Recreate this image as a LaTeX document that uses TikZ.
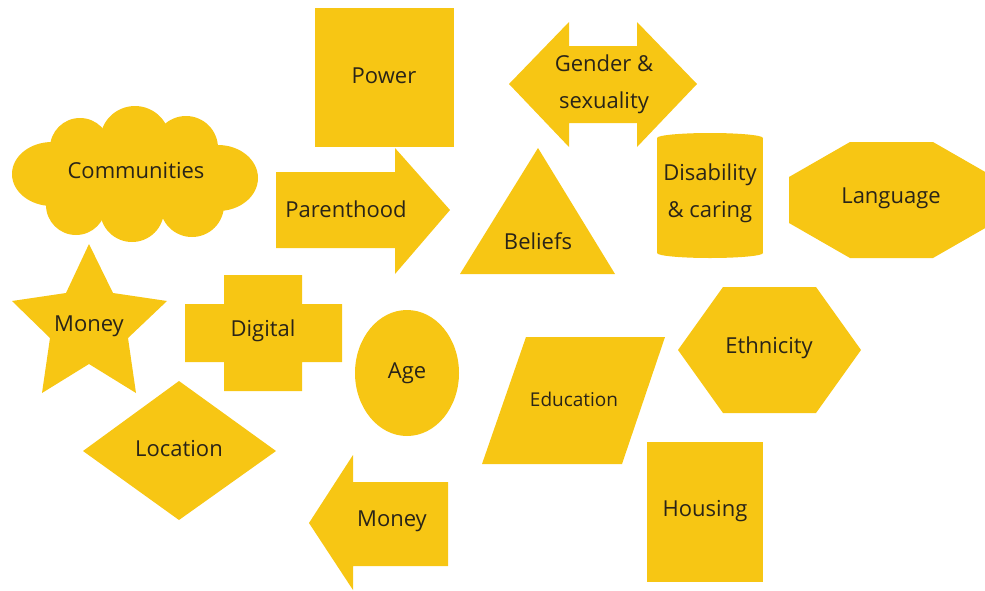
\documentclass[tikz,border=0pt]{standalone}
\usepackage{fontspec}
\setmainfont{Open Sans}
\definecolor{shapeY}{HTML}{F7C614}
\definecolor{txt}{HTML}{2A2418}
\tikzset{
  shp/.style={fill=shapeY, draw=none},
  lbl/.style={text=txt, font=\fontsize{22}{37}\selectfont, align=center, inner sep=0pt},
  lblsmall/.style={lbl, font=\fontsize{19}{24}\selectfont}
}
\begin{document}
\begin{tikzpicture}[x=1pt,y=-1pt]
\useasboundingbox (0,0) rectangle (985,590);
\clip (0,0) rectangle (985,590);
% Power
\fill[shp] (315,8) rectangle (454,147);
\node[lbl] (power) at (384,76) {Power};
% Gender & sexuality (double arrow)
\fill[shp] (509,84) -- (569,22) -- (569,46) -- (637,46) -- (637,22) -- (697,84) -- (637,147) -- (637,123) -- (569,123) -- (569,147) -- cycle;
\node[lbl] (gender) at (604,84) {Gender \&\\sexuality};
% Communities cloud
\fill[shp] (136,174) ellipse [x radius=95, y radius=45];
\fill[shp] (80,148) circle [radius=30];
\fill[shp] (135,141) circle [radius=35];
\fill[shp] (186,148) circle [radius=32];
\fill[shp] (52,174) ellipse [x radius=40, y radius=32];
\fill[shp] (218,178) ellipse [x radius=40, y radius=33];
\fill[shp] (76,205) circle [radius=30];
\fill[shp] (132,210) circle [radius=32];
\fill[shp] (192,205) circle [radius=32];
\node[lbl] (communities) at (136,171) {Communities};
% Parenthood arrow
\fill[shp] (276,172) -- (395,172) -- (395,148) -- (450,210) -- (395,274) -- (395,248) -- (276,248) -- cycle;
\node[lbl] (parenthood) at (346,209) {Parenthood};
% Beliefs triangle
\fill[shp] (538,148) -- (615,274) -- (460,274) -- cycle;
\node[lbl] (beliefs) at (538,241) {Beliefs};
% Disability cylinder
\fill[shp] (657,138) rectangle (763,253);
\fill[shp] (710,138) ellipse [x radius=53, y radius=5];
\fill[shp] (710,253) ellipse [x radius=53, y radius=5];
\node[lbl] (disability) at (710,193) {Disability\\\& caring};
% Language octagon
\fill[shp] (789,177) -- (850,142) -- (933,142) -- (994,177) -- (994,223) -- (933,258) -- (850,258) -- (789,223) -- cycle;
\node[lbl] (language) at (891,198) {Language};
% Money star
\fill[shp] (89,244) -- (113,293) -- (167,301) -- (128,338) -- (136,393) -- (89,364) -- (42,393) -- (50,338) -- (12,301) -- (66,293) -- cycle;
\node[lbl] (money1) at (89,326) {Money};
% Digital cross
\fill[shp] (224,275) -- (302,275) -- (302,304) -- (342,304) -- (342,362) -- (302,362) -- (302,391) -- (224,391) -- (224,362) -- (185,362) -- (185,304) -- (224,304) -- cycle;
\node[lbl] (digital) at (263,331) {Digital};
% Location diamond
\fill[shp] (179,381) -- (276,451) -- (179,520) -- (83,451) -- cycle;
\node[lbl] (location) at (179,449) {Location};
% Age ellipse
\fill[shp] (407,373) ellipse [x radius=52, y radius=63];
\node[lbl] (age) at (407,373) {Age};
% Education parallelogram
\fill[shp] (526,337) -- (665,337) -- (622,464) -- (482,464) -- cycle;
\node[lblsmall] (education) at (574,399) {Education};
% Money left arrow
\fill[shp] (309,523) -- (353,455) -- (353,482) -- (448,482) -- (448,566) -- (353,566) -- (353,590) -- cycle;
\node[lbl] (money2) at (392,521) {Money};
% Ethnicity hexagon
\fill[shp] (678,350) -- (723,287) -- (816,287) -- (861,350) -- (816,413) -- (723,413) -- cycle;
\node[lbl] (ethnicity) at (769,348) {Ethnicity};
% Housing
\fill[shp] (647,442) rectangle (763,582);
\node[lbl] (housing) at (705,511) {Housing};
\end{tikzpicture}
\end{document}
